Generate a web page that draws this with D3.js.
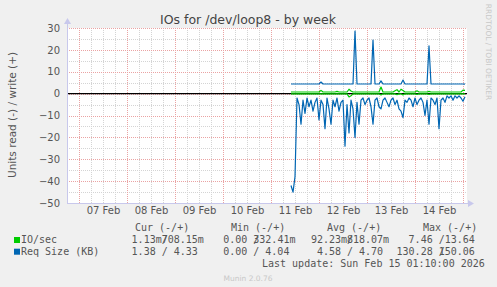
<!DOCTYPE html>
<html>
<head>
<meta charset="utf-8">
<script src="https://cdn.jsdelivr.net/npm/d3@7"></script>
<style>
  body { margin: 0; background: #f0f0f0; }
  text { font-family: "DejaVu Sans", sans-serif; }
  .mono { font-family: "DejaVu Sans Mono", monospace; white-space: pre; }
</style>
</head>
<body>
<div id="vis"></div>
<script>
// chart size and plot box
const W = 497, H = 287;
const plot = { left: 67, top: 28, width: 400, height: 175 };

// time range (UTC), one sample per hour from dataStart
const xStart = Date.UTC(2026, 1, 6, 18);
const xEnd = Date.UTC(2026, 1, 15, 2);
const dataStart = Date.UTC(2026, 1, 11, 10);
const dayLabels = ['07 Feb', '08 Feb', '09 Feb', '10 Feb', '11 Feb', '12 Feb', '13 Feb', '14 Feb'];
const yTicks = [30, 20, 10, 0, -10, -20, -30, -40, -50];

// Req Size (KB), read plotted below zero, write above
const reqRead = [42, 45, 38, 2, 5, 14, 3, 9, 2, 6,
    3, 8, 4, 2, 12, 3, 5, 16, 2, 7,
    14, 3, 6, 2, 8, 4, 3, 24, 5, 18,
    3, 7, 20, 4, 14, 3, 2, 5, 3, 2,
    6, 14, 3, 2, 6, 7, 3, 2, 4, 6,
    3, 2, 5, 3, 7, 8, 11, 3, 4, 2,
    3, 6, 2, 5, 3, 2, 4, 10, 3, 14,
    2, 3, 5, 2, 16, 3, 2, 4, 1, 2,
    1, 3, 1, 2, 1, 2, 3.5, 1.4];
const reqWrite = [4.4, 4.4, 4.4, 4.4, 4.4, 4.4, 4.4, 4.4, 4.4, 4.4,
    4.4, 4.4, 4.4, 4.4, 4.4, 5.3, 4.4, 4.4, 4.4, 4.4,
    4.4, 4.4, 4.4, 4.4, 4.4, 4.4, 4.4, 4.4, 4.4, 4.4,
    4.4, 4.4, 28.6, 4.4, 4.4, 4.4, 4.4, 4.4, 4.4, 4.4,
    4.4, 24.5, 4.4, 4.4, 4.4, 5.8, 4.4, 4.4, 4.4, 4.4,
    4.4, 4.4, 4.4, 4.4, 4.4, 4.4, 6.2, 4.4, 4.4, 4.4,
    4.4, 4.4, 4.4, 4.4, 4.4, 4.4, 4.4, 4.4, 4.4, 21.8,
    4.4, 4.4, 4.4, 4.4, 4.4, 4.4, 4.4, 4.4, 4.4, 4.4,
    4.4, 4.4, 4.4, 4.4, 4.4, 4.4, 4.4, 4.33];

// IO/sec
const ioRead = [0.1, 0.1, 0.1, 0.1, 0.1, 0.1, 0.1, 0.1, 0.1, 0.1,
    0.1, 0.1, 0.1, 0.1, 0.1, 0.1, 0.1, 0.1, 0.1, 0.1,
    0.1, 0.1, 0.1, 0.1, 0.1, 0.1, 0.1, 0.1, 0.1, 1.5,
    1.0, 0.1, 0.1, 0.1, 0.1, 0.1, 0.1, 0.1, 0.1, 0.1,
    0.1, 0.1, 0.1, 0.1, 0.1, 0.6, 0.1, 0.1, 0.1, 0.1,
    0.1, 0.1, 0.1, 0.5, 0.1, 0.1, 0.6, 0.1, 0.1, 0.1,
    0.1, 0.1, 0.1, 0.4, 0.1, 0.1, 0.1, 0.1, 0.1, 0.4,
    0.1, 0.1, 0.1, 0.1, 0.1, 0.1, 0.1, 0.1, 0.1, 0.1,
    0.1, 0.1, 0.1, 0.1, 0.1, 0.1, 0.1, 0.1];
const ioWrite = [0.75, 0.75, 0.75, 0.75, 0.75, 0.75, 0.75, 0.75, 0.75, 0.75,
    0.75, 0.75, 0.75, 0.75, 0.75, 1.5, 0.75, 0.75, 0.75, 0.75,
    0.75, 0.75, 0.75, 1.0, 0.75, 0.75, 0.75, 0.75, 0.75, 2.0,
    1.2, 0.75, 0.75, 0.75, 0.75, 0.75, 0.75, 0.75, 0.75, 0.75,
    0.75, 0.75, 0.75, 0.75, 0.75, 3.0, 0.75, 0.75, 0.75, 0.75,
    0.75, 0.75, 1.3, 1.8, 0.75, 2.0, 1.4, 0.75, 0.75, 0.75,
    0.75, 0.75, 0.75, 1.3, 0.75, 0.75, 0.75, 0.75, 0.75, 1.0,
    0.75, 0.75, 0.75, 0.75, 0.75, 0.75, 0.75, 0.75, 0.75, 0.75,
    0.75, 0.75, 0.75, 0.75, 0.75, 0.75, 1.6, 1.5];

// legend
const seriesNames = ['IO/sec', 'Req Size (KB)'];
const seriesColors = ['#00cc00', '#0066b3'];
const colHeaders = ['Cur (-/+)', 'Min (-/+)', 'Avg (-/+)', 'Max (-/+)'];
const legendNeg = [['1.13m', '0.00', '92.23m', '7.46'], ['1.38', '0.00', '4.58', '130.28']];
const legendPos = [['708.15m', '332.41m', '818.07m', '13.64'], ['4.33', '4.04', '4.70', '150.06']];
const lastUpdate = 'Last update: Sun Feb 15 01:10:00 2026';

const svg = d3.select('#vis').append('svg')
    .attr('width', W)
    .attr('height', H);

svg.append('rect').attr('width', W).attr('height', H).attr('fill', '#f0f0f0');

const x = d3.scaleUtc().domain([xStart, xEnd]).range([plot.left, plot.left + plot.width]);
const y = d3.scaleLinear().domain([-50, 30]).range([plot.top + plot.height, plot.top]);

svg.append('rect')
    .attr('x', plot.left).attr('y', plot.top)
    .attr('width', plot.width).attr('height', plot.height)
    .attr('fill', '#fff');

// grid
const grid = svg.append('g');
const minorX = d3.utcHour.every(6).range(new Date(xStart), new Date(xEnd)).filter(d => d.getUTCHours() !== 0);
const majorX = d3.utcDay.range(new Date(xStart), new Date(xEnd));
grid.selectAll('.mx').data(minorX).join('line')
    .attr('x1', d => Math.round(x(d)) + 0.5).attr('x2', d => Math.round(x(d)) + 0.5)
    .attr('y1', plot.top).attr('y2', plot.top + plot.height)
    .attr('stroke', '#d4d4d4').attr('stroke-dasharray', '1,1');
grid.selectAll('.my').data(d3.range(-45, 30, 10)).join('line')
    .attr('x1', plot.left).attr('x2', plot.left + plot.width)
    .attr('y1', d => Math.round(y(d)) + 0.5).attr('y2', d => Math.round(y(d)) + 0.5)
    .attr('stroke', '#d4d4d4').attr('stroke-dasharray', '1,1');
grid.selectAll('.Mx').data(majorX).join('line')
    .attr('x1', d => Math.round(x(d)) + 0.5).attr('x2', d => Math.round(x(d)) + 0.5)
    .attr('y1', plot.top).attr('y2', plot.top + plot.height)
    .attr('stroke', '#eaa3a3').attr('stroke-dasharray', '1,1');
grid.selectAll('.My').data(yTicks.filter(v => v !== -50)).join('line')
    .attr('x1', plot.left).attr('x2', plot.left + plot.width)
    .attr('y1', d => Math.round(y(d)) + 0.5).attr('y2', d => Math.round(y(d)) + 0.5)
    .attr('stroke', '#eaa3a3').attr('stroke-dasharray', '1,1');

// y axis labels
svg.append('g')
    .attr('transform', `translate(${plot.left - 5},0)`)
    .call(d3.axisLeft(y).tickValues(yTicks).tickSize(0).tickPadding(2))
    .call(g => g.select('.domain').remove())
    .selectAll('text')
    .attr('font-size', 10).attr('fill', '#555').attr('font-family', 'DejaVu Sans');

// x axis labels at noon
const labelTimes = dayLabels.map((_, i) => Date.UTC(2026, 1, 7 + i, 12));
svg.append('g')
    .attr('transform', `translate(0,${plot.top + plot.height})`)
    .call(d3.axisBottom(x).tickValues(labelTimes).tickSize(0).tickPadding(4)
        .tickFormat((d, i) => dayLabels[i]))
    .call(g => g.select('.domain').remove())
    .selectAll('text')
    .attr('font-size', 10).attr('fill', '#555').attr('font-family', 'DejaVu Sans');

// zero line
svg.append('line')
    .attr('x1', plot.left).attr('x2', plot.left + plot.width)
    .attr('y1', y(0)).attr('y2', y(0))
    .attr('stroke', '#000').attr('stroke-width', 1.2);

// series
const t = i => dataStart + i * 3600e3;
const line = d3.line().x((d, i) => x(t(i))).y(d => y(d));
const drawSeries = (vals, sign, color) => svg.append('path')
    .datum(vals.map(v => v * sign))
    .attr('d', line)
    .attr('fill', 'none')
    .attr('stroke', color)
    .attr('stroke-width', 1.2)
    .attr('stroke-linejoin', 'round');
drawSeries(ioRead, -1, seriesColors[0]);
drawSeries(ioWrite, 1, seriesColors[0]);
drawSeries(reqRead, -1, seriesColors[1]);
drawSeries(reqWrite, 1, seriesColors[1]);

// axis frame with arrows
const axisColor = '#c8c8ec';
svg.append('line')
    .attr('x1', plot.left + 0.5).attr('x2', plot.left + 0.5)
    .attr('y1', plot.top + plot.height).attr('y2', plot.top - 6)
    .attr('stroke', axisColor);
svg.append('line')
    .attr('x1', plot.left).attr('x2', plot.left + plot.width + 4)
    .attr('y1', plot.top + plot.height + 0.5).attr('y2', plot.top + plot.height + 0.5)
    .attr('stroke', axisColor);
svg.append('path')
    .attr('d', `M${plot.left - 3},${plot.top - 4}L${plot.left + 0.5},${plot.top - 10}L${plot.left + 4},${plot.top - 4}Z`)
    .attr('fill', axisColor);
svg.append('path')
    .attr('d', `M${plot.left + plot.width + 1},${plot.top + plot.height - 3}L${plot.left + plot.width + 7},${plot.top + plot.height + 0.5}L${plot.left + plot.width + 1},${plot.top + plot.height + 4}Z`)
    .attr('fill', axisColor);

// title and side texts
svg.append('text')
    .attr('x', 248).attr('y', 24)
    .attr('text-anchor', 'middle')
    .attr('font-size', 12.5).attr('fill', '#444')
    .text('IOs for /dev/loop8 - by week');
svg.append('text')
    .attr('transform', 'translate(16,115) rotate(-90)')
    .attr('text-anchor', 'middle')
    .attr('font-size', 10.5).attr('fill', '#555')
    .text('Units read (-) / write (+)');
svg.append('text')
    .attr('transform', 'translate(486,52) rotate(90)')
    .attr('text-anchor', 'middle')
    .attr('font-size', 7.5).attr('fill', '#c8c8c8')
    .text('RRDTOOL / TOBI OETIKER');

// legend: rrdtool prints "neg/pos" with the pos value starting on the slash cell
const cw = 6.02;
const headerX = [135, 231, 327, 423];
const slashX = [161.7, 253.3, 347, 438.7];
const legend = svg.append('g').attr('font-size', 10).attr('fill', '#555');
colHeaders.forEach((h, i) => legend.append('text').attr('class', 'mono')
    .attr('x', headerX[i]).attr('y', 231).text(h));
const pad = s => {
    const num = s.replace(/[a-zA-Z]$/, '');
    const suf = s.length > num.length ? s.slice(-1) : ' ';
    return num.padStart(6, ' ') + suf;
};
const lead = s => s.length - s.trimStart().length;
seriesNames.forEach((name, r) => {
    const by = 243 + r * 11.7;
    svg.append('rect')
        .attr('x', 14).attr('y', by - 6).attr('width', 6).attr('height', 6)
        .attr('fill', seriesColors[r]);
    legend.append('text').attr('class', 'mono').attr('x', 21).attr('y', by).text(name);
    slashX.forEach((s, c) => {
        const neg = pad(legendNeg[r][c]) + '/';
        const pos = pad(legendPos[r][c]);
        const cell = legend.append('text').attr('class', 'mono').attr('y', by);
        cell.append('tspan').attr('x', s - 7 * cw + lead(neg) * cw).text(neg.trim());
        cell.append('tspan').attr('x', s + lead(pos) * cw).text(pos.trim());
    });
});
legend.append('text').attr('class', 'mono')
    .attr('x', 262).attr('y', 267).text(lastUpdate);
svg.append('text')
    .attr('x', 248).attr('y', 281)
    .attr('text-anchor', 'middle')
    .attr('font-size', 7.5).attr('fill', '#c8c8c8')
    .text('Munin 2.0.76');
</script>
</body>
</html>
